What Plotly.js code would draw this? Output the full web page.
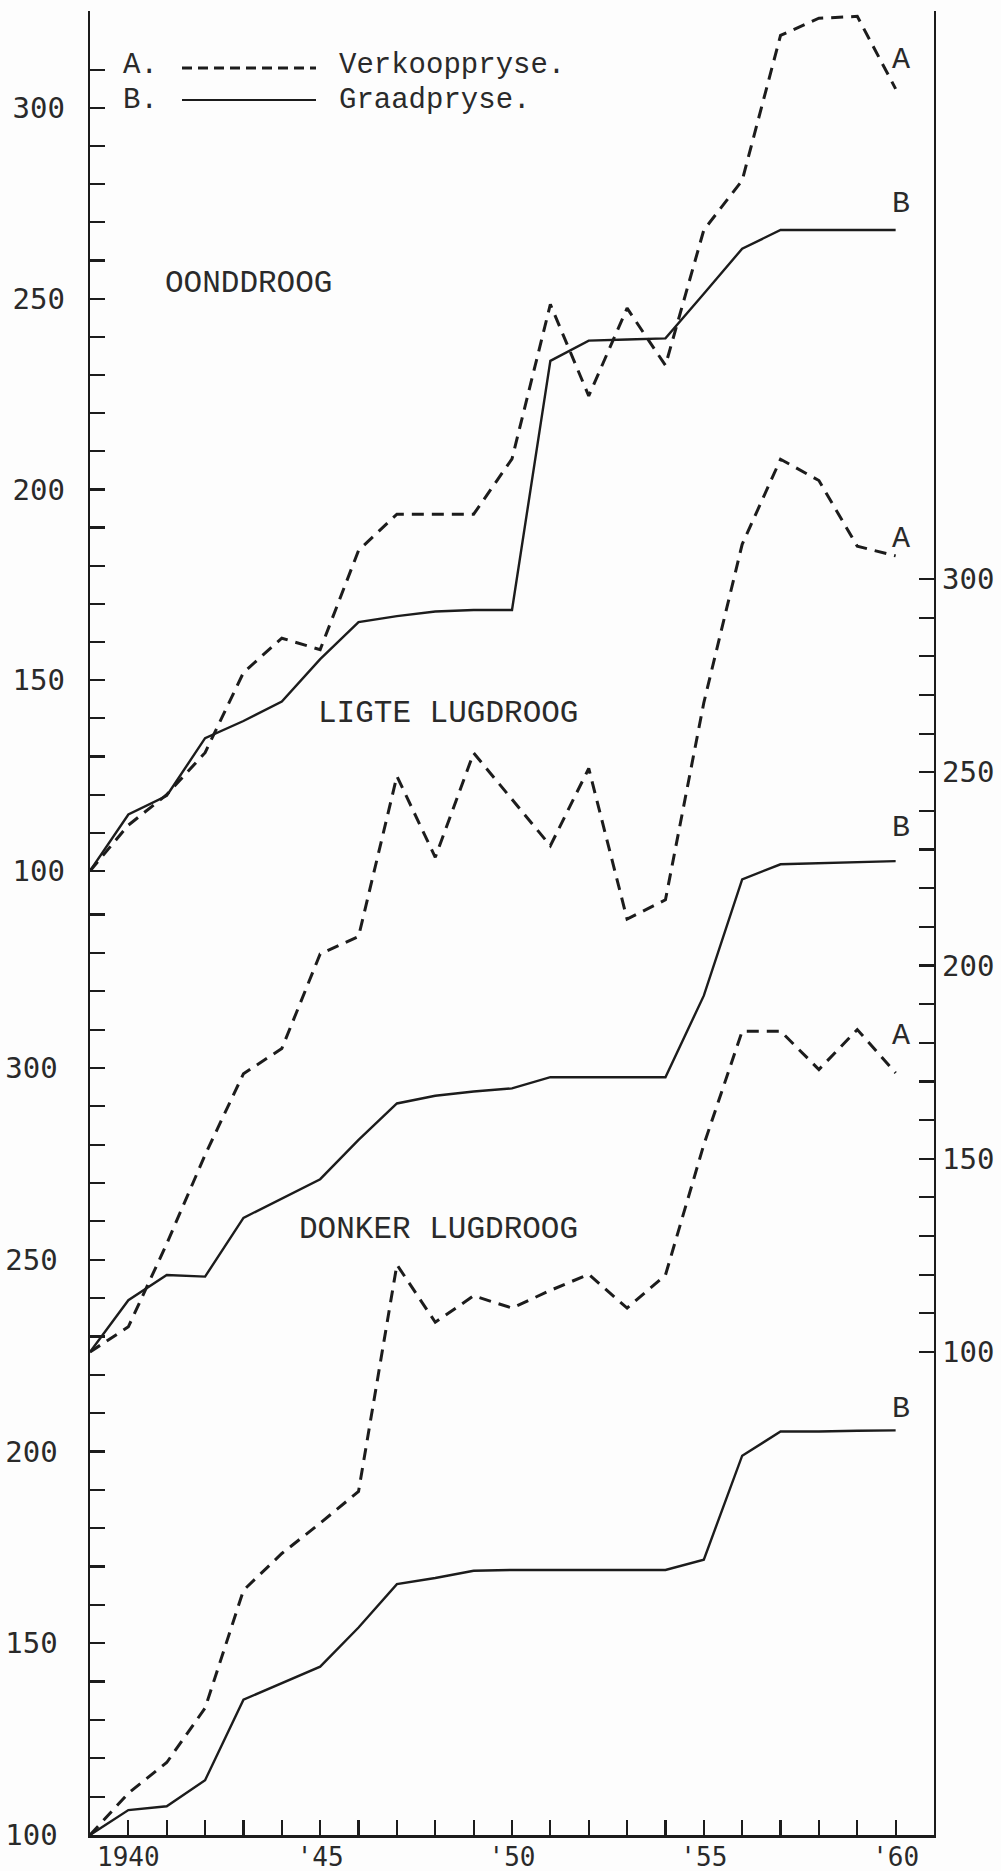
<!DOCTYPE html>
<html><head><meta charset="utf-8">
<script src="https://cdn.plot.ly/plotly-3.0.1.min.js"></script>
<style>html,body{margin:0;padding:0;background:#fdfdfd}</style>
</head><body><div id="chart" style="width:1001px;height:1871px"></div>
<script>
// ---- data (index prices, 1939 = 100) ----
const years = [1939,1940,1941,1942,1943,1944,1945,1946,1947,1948,1949,1950,1951,1952,1953,1954,1955,1956,1957,1958,1959,1960];

// OONDDROOG (left upper scale)
const oonddroogA = [100,112,120,131,152,161,158,184,193.5,193.5,193.5,208,248.5,224.5,247.5,232.5,268,281,319,323.5,324,305];
const oonddroogB = [100,114.8,119.7,134.8,139.3,144.4,155.5,165.2,166.8,168,168.4,168.4,233.7,239,239.3,239.6,251.3,263.1,268,268,268,268];

// LIGTE LUGDROOG (right scale)
const ligteA = [100,106.5,128,151,172,178.5,203,207.5,249,228,255,243,231,251,212,217,268,309,331,325.5,308.5,306];
const ligteB = [100,113.4,119.9,119.5,134.7,139.8,144.7,154.9,164.3,166.3,167.4,168.2,171.1,171.1,171.1,171.1,192.2,222.3,226.2,226.5,226.8,227];

// DONKER LUGDROOG (left lower scale)
const donkerA = [100,110.9,118.9,133.1,163.8,173.4,181.3,189.6,248.7,233.7,240.6,237.4,242,246.2,237.4,246,280,309.6,309.6,299.6,310,298.7];
const donkerB = [100,106.5,107.5,114.3,135.3,139.6,143.9,154.1,165.4,167,168.9,169.1,169.1,169.1,169.1,169.1,171.8,198.9,205.2,205.2,205.4,205.5];

// tick labels
const labelledYears = [1940,1945,1950,1955,1960];
const yearLabels = ['1940',"'45","'50","'55","'60"];
const labelledValues = [100,150,200,250,300];
const groupNames = ['OONDDROOG','LIGTE LUGDROOG','DONKER LUGDROOG'];
const legendLetters = ['A.','B.'];
const legendNames = ['Verkooppryse.','Graadpryse.'];
const endLetters = ['A','B'];

// ---- helpers ----
function steps(from,to,step){const v=[];for(let t=from;t<=to+1e-9;t+=step)v.push(t);return v;}
function valText(vals){return vals.map(v=>labelledValues.includes(v)?String(v):'');}
const xTickVals = steps(1940,1960,1);
const xTickText = xTickVals.map(y=>{const i=labelledYears.indexOf(y);return i>=0?yearLabels[i]:'';});

const INK = '#1c1c1c';
const TXT = '#2a2a2a';
const DASH = '12px,8px';

function tr(y, axis, dashed){
  return {x:years, y:y, yaxis:axis, type:'scatter', mode:'lines', hoverinfo:'skip',
    line:{color:INK, width: dashed?3:2.4, dash: dashed?DASH:'solid', shape:'linear'}};
}
const data = [
  tr(donkerA,'y',true), tr(donkerB,'y',false),
  tr(oonddroogA,'y2',true), tr(oonddroogB,'y2',false),
  tr(ligteA,'y3',true), tr(ligteB,'y3',false)
];

const tickFont = {family:'DejaVu Sans Mono, monospace', size:29, color:TXT};
const yBase = {ticks:'inside', ticklen:15, tickwidth:2.2, tickcolor:INK, showgrid:false, zeroline:false,
  tickmode:'array', tickfont:tickFont, fixedrange:true};

const yv1 = steps(100,340,10), yv2 = steps(100,310,10), yv3 = steps(100,300,10);

const mono = {family:'Liberation Mono, Courier New, monospace', size:31, color:TXT};
const monoLeg = {family:'Liberation Mono, Courier New, monospace', size:29, color:TXT};
const ann = [];
// group names
ann.push({text:groupNames[0], xref:'x', yref:'y2', x:1940.9, y:253.9, xanchor:'left', yanchor:'middle', showarrow:false, font:mono});
ann.push({text:groupNames[1], xref:'x', yref:'y3', x:1944.9, y:265.1, xanchor:'left', yanchor:'middle', showarrow:false, font:mono});
ann.push({text:groupNames[2], xref:'x', yref:'y', x:1944.4, y:257.8, xanchor:'left', yanchor:'middle', showarrow:false, font:mono});
// end letters
const lf = {family:'Liberation Mono, monospace', size:30, color:TXT};
[['y2',312.6,0],['y2',274.8,1],['y3',310.4,0],['y3',235.6,1],['y',308.3,0],['y',211.1,1]].forEach(a=>{
  ann.push({text:endLetters[a[2]], xref:'x', yref:a[0], x:1960.15, y:a[1], xanchor:'center', yanchor:'middle', showarrow:false, font:lf});
});
// legend
const W = 844, H = 1824;
function px(x){return (x-90)/W;} function py(y){return (1835-y)/H;}
[66,100].forEach((yy,i)=>{
  ann.push({text:legendLetters[i], xref:'paper', yref:'paper', x:px(122), y:py(yy), xanchor:'left', yanchor:'middle', showarrow:false, font:monoLeg, borderpad:0});
  ann.push({text:legendNames[i], xref:'paper', yref:'paper', x:px(338), y:py(yy), xanchor:'left', yanchor:'middle', showarrow:false, font:monoLeg, borderpad:0});
});
const shapes = [
  {type:'line', xref:'paper', yref:'paper', x0:px(182), x1:px(316), y0:py(68), y1:py(68), line:{color:INK, width:3, dash:'10px,6px'}},
  {type:'line', xref:'paper', yref:'paper', x0:px(182), x1:px(316), y0:py(100), y1:py(100), line:{color:INK, width:2, dash:'solid'}}
];

const layout = {
  width:1001, height:1871,
  margin:{l:90, r:67, t:11, b:36, pad:0},
  paper_bgcolor:'#fdfdfd', plot_bgcolor:'#fdfdfd',
  showlegend:false,
  xaxis:{range:[1939,1961], tickmode:'array', tickvals:xTickVals, ticktext:xTickText,
    ticks:'inside', ticklen:15, tickwidth:2.2, tickcolor:INK, showline:true, linecolor:INK, linewidth:2.5,
    showgrid:false, zeroline:false, tickfont:{family:'DejaVu Sans Mono, monospace', size:26, color:TXT},
    ticklabelstandoff:-3, fixedrange:true},
  yaxis: Object.assign({}, yBase, {range:[100,575.6], tickvals:yv1, ticktext:valText(yv1),
    showline:true, linecolor:INK, linewidth:2.5, side:'left', ticklabelstandoff:24}),
  yaxis2: Object.assign({}, yBase, {range:[-152.7,325.4], tickvals:yv2, ticktext:valText(yv2),
    overlaying:'y', side:'left', showline:false, ticklabelstandoff:24}),
  yaxis3: Object.assign({}, yBase, {range:[-25,447], tickvals:yv3, ticktext:valText(yv3),
    overlaying:'y', side:'right', showline:true, linecolor:INK, linewidth:2.2, ticklabelstandoff:0}),
  annotations: ann,
  shapes: shapes
};

Plotly.newPlot('chart', data, layout, {staticPlot:true, displayModeBar:false});
</script>
</body></html>
